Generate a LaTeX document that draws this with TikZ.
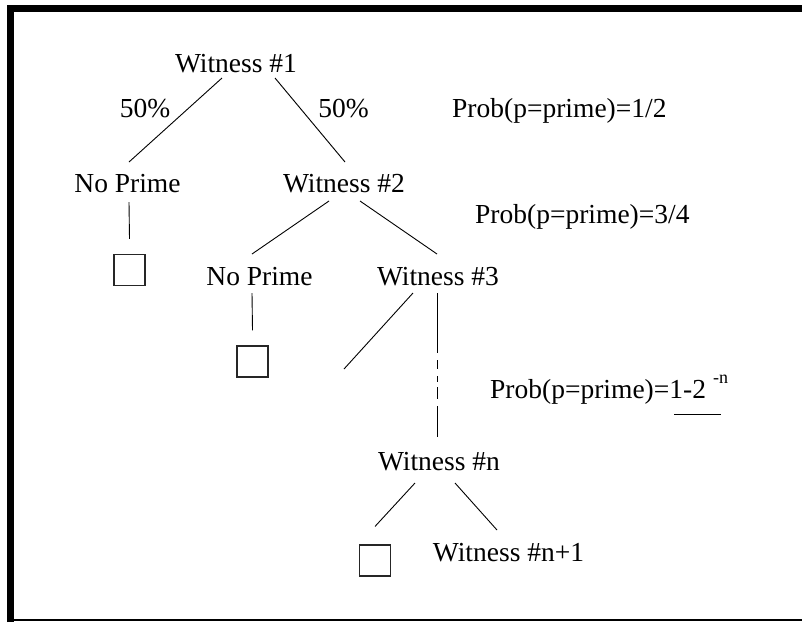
\documentclass[tikz,border=0pt]{standalone}
\usepackage{fontspec}
\setmainfont{Liberation Serif}
\begin{document}
\begin{tikzpicture}[x=1pt,y=-1pt,
  lbl/.style={inner sep=0pt,anchor=base,font=\fontsize{27.5}{33}\selectfont},
  prob/.style={inner sep=0pt,anchor=base west,font=\fontsize{27.5}{33}\selectfont},
  leaf/.style={draw=black!85,line width=1.1pt,minimum width=31pt,minimum height=31pt,inner sep=0pt},
  edge/.style={line width=0.9pt},
  frame/.style={line width=7pt}]
\useasboundingbox (0,0) rectangle (802,622);

% frame
\draw[frame] (10.5,622) -- (10.5,8.5) -- (802,8.5);
\draw[line width=1.5pt] (7,620) -- (802,620);

% tree nodes
\node[lbl] (w1) at (236,72) {Witness \#1};
\node[lbl] (pl) at (145,117) {50\%};
\node[lbl] (pr) at (343.5,117) {50\%};
\node[lbl] (np1) at (127.5,192) {No Prime};
\node[lbl] (w2) at (344,192) {Witness \#2};
\node[lbl] (np2) at (259.5,285) {No Prime};
\node[lbl] (w3) at (438,285) {Witness \#3};
\node[lbl] (wn) at (439,470) {Witness \#n};
\node[lbl] (wn1) at (508.5,561) {Witness \#n+1};

\node[leaf] (b1) at (129.5,270) {};
\node[leaf] (b2) at (252.5,361.5) {};
\node[leaf] (b3) at (375,560.5) {};

\coordinate (w3end) at (344,369);

% probability notes
\node[prob] (p1) at (452,117) {Prob(p=prime)=1/2};
\node[prob] (p2) at (475,223) {Prob(p=prime)=3/4};
\node[prob] (p3) at (490,398) {Prob(p=prime)=1-2};
\node[inner sep=0pt,anchor=base west,font=\fontsize{18}{22}\selectfont] (pexp) at (713,383) {-n};
\draw[edge] ([shift={(184,16)}]p3.base west) -- ([shift={(231,16)}]p3.base west);

% connectors
\draw[edge] ([shift={(-14,6)}]w1.base) -- ([shift={(1.5,-30)}]np1.base);
\draw[edge] ([shift={(39,6)}]w1.base) -- ([shift={(1,-30)}]w2.base);
\draw[edge] ([shift={(1.5,10)}]np1.base) -- ([shift={(0,-15)}]b1.north);
\draw[edge] ([shift={(-15,9)}]w2.base) -- ([shift={(-7.5,-31)}]np2.base);
\draw[edge] ([shift={(16,9)}]w2.base) -- ([shift={(-1,-31)}]w3.base);
\draw[edge] ([shift={(-7.5,8)}]np2.base) -- ([shift={(0,-15)}]b2.north);
\draw[edge] ([shift={(-25,8)}]w3.base) -- (w3end);
\draw[edge,dash pattern=on 60pt off 7pt on 9pt off 7pt on 6pt off 5pt on 12pt off 7pt on 31pt]
  ([shift={(-1,8)}]w3.base) -- ([shift={(-2,-33)}]wn.base);
\draw[edge] ([shift={(-24,13)}]wn.base) -- ([shift={(0,-18)}]b3.north);
\draw[edge] ([shift={(16,13)}]wn.base) -- ([shift={(-11.5,-31)}]wn1.base);
\end{tikzpicture}
\end{document}
